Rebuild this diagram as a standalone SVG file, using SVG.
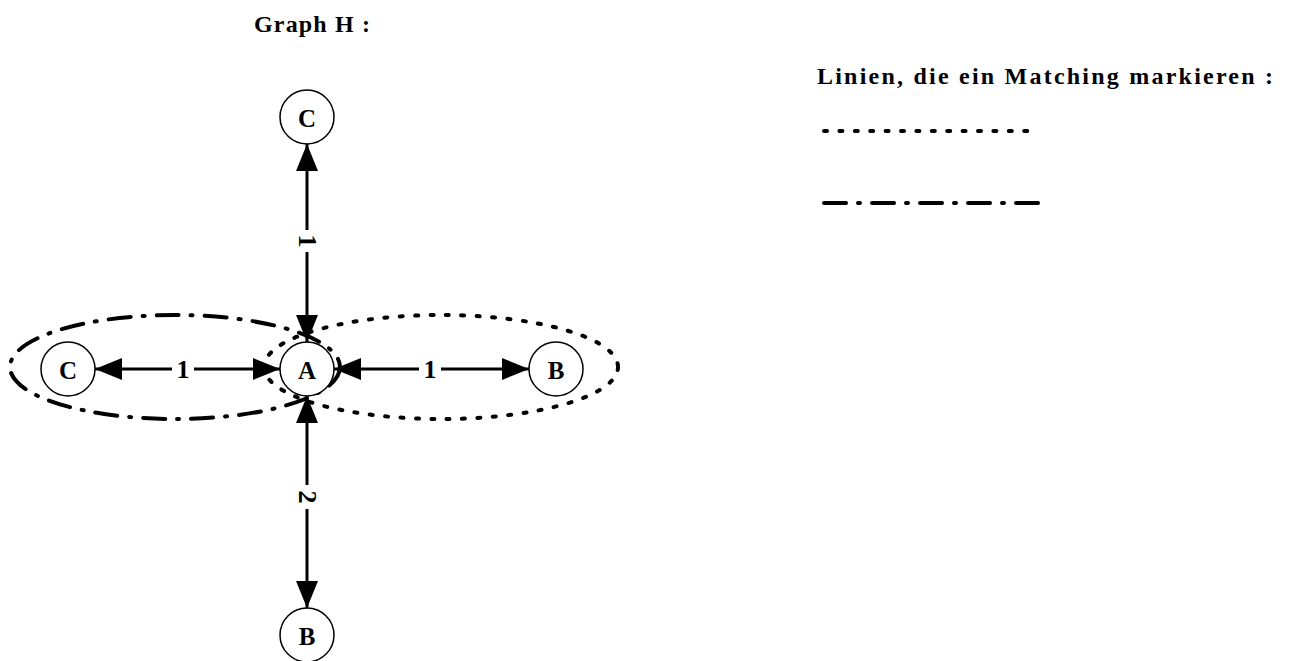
<svg xmlns="http://www.w3.org/2000/svg" width="1290" height="661" viewBox="0 0 1290 661">
<style>
.node circle{fill:#fff;stroke:#000;stroke-width:1.5}
.node text,.lbl,.title{font-family:"Liberation Serif",serif;font-weight:bold;fill:#000}
.node text{font-size:25px;text-anchor:middle;dominant-baseline:central}
.lbl{font-size:26px;text-anchor:middle;dominant-baseline:central}
.lblbg{fill:#fff}
.title{font-size:24px}
.edge{stroke:#000;stroke-width:3;fill:none;marker-start:url(#ah);marker-end:url(#ah)}
.dot{fill:none;stroke:#000;stroke-width:4;stroke-linecap:round;stroke-dasharray:3 12.4}
.dashdot{fill:none;stroke:#000;stroke-width:4;stroke-linecap:round;stroke-dasharray:22 12 2 12}
</style>
<defs>
<marker id="ah" viewBox="0 0 27 22" refX="27" refY="11" markerWidth="27" markerHeight="22" markerUnits="userSpaceOnUse" orient="auto-start-reverse">
<path d="M0,0 L27,11 L0,22 Z" fill="#000"/>
</marker>
</defs>
<text class="title" x="254" y="32" textLength="116" lengthAdjust="spacing">Graph H :</text>
<text class="title" x="817" y="84" textLength="456" lengthAdjust="spacing">Linien, die ein Matching markieren :</text>
<g id="legend">
<line class="dot" x1="824" y1="131" x2="1037" y2="131" stroke-dasharray="3 12.1"/>
<line class="dashdot" x1="824" y1="203" x2="1041" y2="203" stroke-dasharray="21 13 2 13"/>
</g>
<g id="matchings">
<ellipse class="dashdot" cx="175" cy="367" rx="165" ry="52"/>
<ellipse class="dot" cx="441" cy="367" rx="177" ry="52"/>
</g>
<g id="connectors">
<line class="edge" x1="307" y1="144" x2="307" y2="342"/>
<line class="edge" x1="280" y1="369" x2="95" y2="369"/>
<line class="edge" x1="334" y1="369" x2="529" y2="369"/>
<line class="edge" x1="307" y1="396" x2="307" y2="608"/>
<rect class="lblbg" x="297" y="230" width="20" height="22"/>
<text class="lbl" transform="translate(307,241) rotate(90)">1</text>
<rect class="lblbg" x="172" y="356" width="22" height="26"/>
<text class="lbl" x="183" y="369">1</text>
<rect class="lblbg" x="419" y="356" width="22" height="26"/>
<text class="lbl" x="430" y="369">1</text>
<rect class="lblbg" x="297" y="485" width="20" height="24"/>
<text class="lbl" transform="translate(307,497) rotate(90)">2</text>
</g>
<g id="n-ctop" class="node"><circle cx="307" cy="117" r="27"/><text x="307" y="118">C</text></g>
<g id="n-cleft" class="node"><circle cx="68" cy="369" r="27"/><text x="68" y="370">C</text></g>
<g id="n-a" class="node"><circle cx="307" cy="369" r="27"/><text x="307" y="370">A</text></g>
<g id="n-bright" class="node"><circle cx="556" cy="369" r="27"/><text x="556" y="370">B</text></g>
<g id="n-bbottom" class="node"><circle cx="307" cy="635" r="27"/><text x="307" y="636">B</text></g>
</svg>
